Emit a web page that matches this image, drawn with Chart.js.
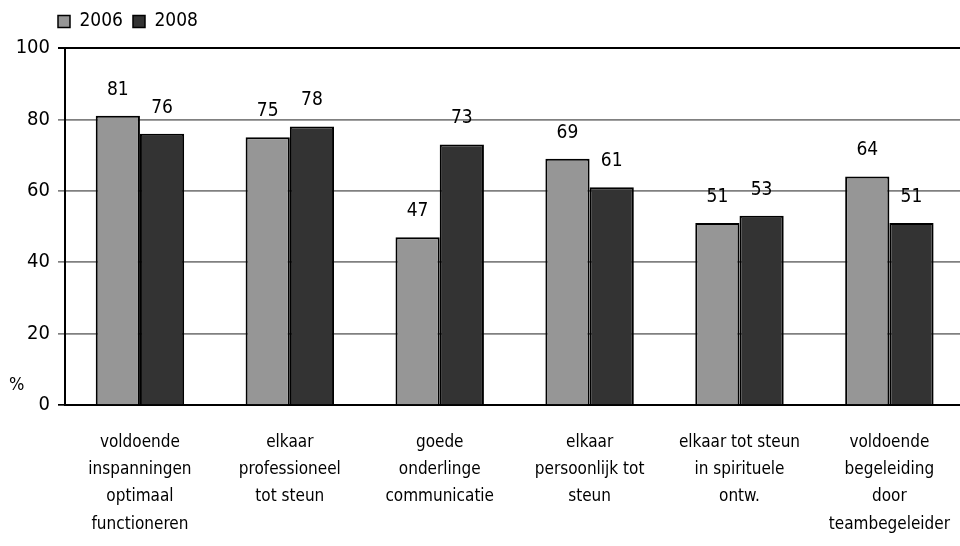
<!DOCTYPE html>
<html>
<head>
<meta charset="utf-8">
<script src="https://cdn.jsdelivr.net/npm/chart.js@4"></script>
<style>
  html, body { margin: 0; padding: 0; background: #fff; overflow: hidden; }
  #wrap { width: 966px; height: 546px; position: relative; }
</style>
</head>
<body>
<div id="wrap"><canvas id="chart"></canvas></div>
<script>
const categories = [
  ['voldoende', 'inspanningen', 'optimaal', 'functioneren'],
  ['elkaar', 'professioneel', 'tot steun'],
  ['goede', 'onderlinge', 'communicatie'],
  ['elkaar', 'persoonlijk tot', 'steun'],
  ['elkaar tot steun', 'in spirituele', 'ontw.'],
  ['voldoende', 'begeleiding', 'door', 'teambegeleider']
];
const values2006 = [81, 75, 47, 69, 51, 64];
const values2008 = [76, 78, 73, 61, 53, 51];
const yTicks = [0, 20, 40, 60, 80, 100];

const FONT = '"Liberation Sans Narrow", "DejaVu Sans Condensed", "Roboto Condensed", sans-serif';

// value labels above the bars + the "%" unit
const labelPlugin = {
  id: 'valueLabels',
  afterDatasetsDraw(chart) {
    const ctx = chart.ctx;
    ctx.save();
    ctx.font = '19px ' + FONT;
    ctx.fillStyle = '#000';
    ctx.textAlign = 'center';
    ctx.textBaseline = 'middle';
    chart.data.datasets.forEach((ds, i) => {
      chart.getDatasetMeta(i).data.forEach((bar, j) => {
        ctx.fillText(String(ds.data[j]), bar.x, bar.y - 26);
      });
    });
    ctx.font = '18px ' + FONT;
    ctx.textAlign = 'left';
    ctx.fillText('%', 9, 385);
    ctx.restore();
  },
  afterLayout(chart) {
    if (chart.legend) {
      chart.legend.left = 48;
      chart.legend.top -= 7;
    }
  }
};

new Chart(document.getElementById('chart'), {
  type: 'bar',
  data: {
    labels: categories,
    datasets: [
      {
        label: '2006',
        data: values2006,
        backgroundColor: '#969696',
        borderColor: '#000',
        borderWidth: 2
      },
      {
        label: '2008',
        data: values2008,
        backgroundColor: '#333333',
        borderColor: '#000',
        borderWidth: 2
      }
    ]
  },
  options: {
    responsive: true,
    maintainAspectRatio: false,
    animation: false,
    layout: { padding: { top: 9, left: 0, right: 0, bottom: 0 } },
    datasets: {
      bar: { categoryPercentage: 0.59, barPercentage: 1 }
    },
    plugins: {
      tooltip: { enabled: false },
      legend: {
        position: 'top',
        align: 'start',
        labels: {
          boxWidth: 12,
          boxHeight: 12,
          padding: 10,
          color: '#000',
          font: { family: FONT, size: 19 },
          generateLabels(chart) {
            return chart.data.datasets.map((ds, i) => ({
              text: ds.label,
              fillStyle: ds.backgroundColor,
              strokeStyle: '#000',
              lineWidth: 1.5,
              datasetIndex: i
            }));
          }
        }
      }
    },
    scales: {
      x: {
        grid: { display: false },
        border: { display: true, color: '#000', width: 2 },
        ticks: {
          color: '#000',
          padding: 16,
          maxRotation: 0,
          autoSkip: false,
          font: { family: FONT, size: 17, lineHeight: 1.6 }
        },
        afterFit(scale) { scale.height = 141; }
      },
      y: {
        min: 0,
        max: 100,
        afterBuildTicks(scale) { scale.ticks = yTicks.map(v => ({ value: v })); },
        grid: {
          color: ctx => (ctx.tick && (ctx.tick.value === 100 || ctx.tick.value === 0)) ? '#000' : '#808080',
          lineWidth: ctx => (ctx.tick && ctx.tick.value === 100) ? 2 : 1.7,
          tickLength: 7,
          drawTicks: true
        },
        border: { display: true, color: '#000', width: 2 },
        ticks: {
          color: '#000',
          padding: 8,
          font: { family: FONT, size: 20 }
        },
        afterFit(scale) { scale.width = 65; }
      }
    }
  },
  plugins: [labelPlugin]
});
</script>
</body>
</html>
